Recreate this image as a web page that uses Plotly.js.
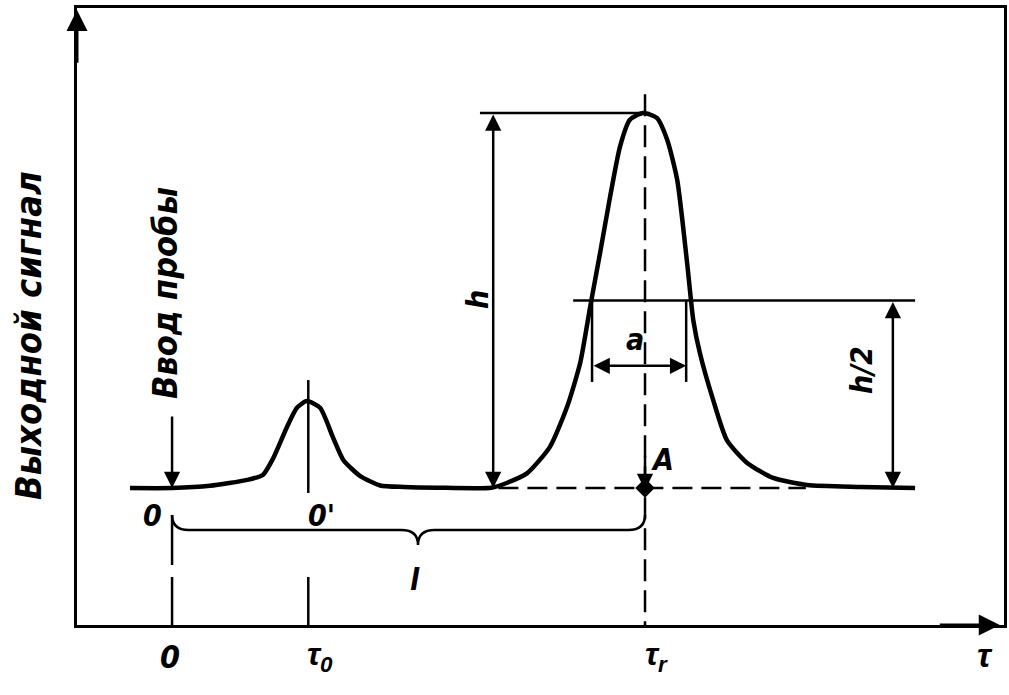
<!DOCTYPE html>
<html><head><meta charset="utf-8">
<script src="https://cdn.plot.ly/plotly-3.0.1.min.js"></script>
<style>html,body{margin:0;padding:0;background:#fff}#c{width:1009px;height:695px}</style>
</head><body><div id="c"></div>
<script>
// Chromatogram signal (time in arbitrary units, signal in arbitrary units)
const tau = [-0.89, 0, 0.80, 1.59, 1.92, 2.14, 2.43, 2.64, 2.85, 3.13, 3.40, 3.62, 3.98, 4.40, 4.90, 5.60, 6.75,
  7.10, 7.51, 7.99, 8.35, 8.63, 8.84, 9.05, 9.26, 9.47, 9.68, 9.96, 10.25, 10.47, 10.68, 10.89, 11.02,
  11.16, 11.44, 11.73, 12.16, 12.71, 13.43, 14.55, 15.71];
const signal = [3.65, 3.65, 3.71, 3.87, 4.00, 4.45, 5.28, 5.79, 5.97, 5.79, 5.01, 4.40, 3.97, 3.72, 3.68, 3.66, 3.66,
  3.80, 4.05, 4.75, 5.81, 6.99, 8.48, 9.92, 11.41, 12.75, 13.47, 13.65, 13.52, 12.93, 11.87, 9.65, 8.13,
  7.25, 6.00, 4.93, 4.32, 3.92, 3.73, 3.68, 3.65];

// Key quantities of the diagram
const tau0 = 2.88;        // τ0
const tauR = 10.0;        // τr
const baseline = 3.65;
const peakTop = 13.65;
const halfH = (baseline + peakTop) / 2;
const halfLeft = 8.88, halfRight = 10.87;

// Text labels
const yTitle = 'Выходной сигнал';
const injLabel = 'Ввод пробы';
const xTickVals = [0, tau0, tauR];
const xTickText = ['0', 'τ<sub>0</sub>', 'τ<sub>r</sub>'];
const xAxisLabel = 'τ';

const X0 = -2.01, X1 = 17.59, Y0 = 0, Y1 = 16.45;
const K = 'black';
const F = {family: 'DejaVu Sans Condensed, DejaVu Sans, sans-serif', color: K, style: 'italic', weight: 'bold', size: 30};
const f = s => Object.assign({}, F, {size: s});
const FT = s => Object.assign({}, F, {size: s, family: 'Liberation Sans, Arial, sans-serif'});

function line(x0, y0, x1, y1, w, dash) {
  return {type: 'line', xref: 'x', yref: 'y', x0, y0, x1, y1, line: {color: K, width: w || 2.5, dash: dash || 'solid'}};
}
function arrow(x, y, ax, ay, opts) {
  return Object.assign({x, y, ax, ay, xref: 'x', yref: 'y', axref: 'x', ayref: 'y', text: '', showarrow: true,
    arrowhead: 2, arrowsize: 1.3, arrowwidth: 2.5, arrowcolor: K, standoff: 0, startstandoff: 0}, opts || {});
}
function label(x, y, text, opts) {
  return Object.assign({x, y, xref: 'x', yref: 'y', text, showarrow: false, font: F, xanchor: 'center', yanchor: 'middle'}, opts || {});
}
const py = v => (v - Y0) / (Y1 - Y0); // data y -> paper y (for text outside plot)
const px = v => (v - X0) / (X1 - X0);

const braceY = 2.53, braceTop = 2.93, braceTip = 2.13, braceMid = 5.2;
const bracePath = `M 0,${braceTop} Q 0,${braceY} 0.35,${braceY} L ${braceMid-0.35},${braceY} Q ${braceMid},${braceY} ${braceMid},${braceTip} ` +
  `Q ${braceMid},${braceY} ${braceMid+0.35},${braceY} L ${tauR-0.35},${braceY} Q ${tauR},${braceY} ${tauR},${braceTop}`;

const shapes = [
  line(6.9, baseline, 13.4, baseline, 2.5, '20px,9px'),
  line(tauR, peakTop + 0.5, tauR, 0, 2.5, '22px,9px'),
  line(tau0, 6.53, tau0, 3.52, 2.5),
  line(tau0, 0, tau0, 1.28, 2.5),
  line(0, braceTop, 0, 0, 2.5, '50px,12px'),
  line(6.51, peakTop, tauR + 0.1, peakTop, 2.5),
  line(8.48, halfH, 15.71, halfH, 2.5),
  line(halfLeft, halfH, halfLeft, 6.48, 2.5),
  line(halfRight, halfH, halfRight, 6.48, 2.5),
  {type: 'path', xref: 'x', yref: 'y', path: bracePath, line: {color: K, width: 2.5}}
];

const annotations = [
  arrow(6.79, baseline, 6.79, peakTop, {arrowside: 'end+start'}),
  arrow(15.24, baseline, 15.24, halfH, {arrowside: 'end+start'}),
  arrow(halfRight, 6.91, halfLeft, 6.91, {arrowside: 'end+start'}),
  arrow(0, baseline, 0, 5.6),
  arrow(tauR, baseline - 0.05, tauR, baseline + 0.9),
  arrow(X0, Y1 - 0.05, X0, Y1 - 1.5, {arrowwidth: 3, arrowsize: 1.4}),
  arrow(17.5, Y0, 16.2, Y0, {arrowwidth: 3, arrowsize: 1.4}),
  label(6.47, 8.67, 'h', {textangle: -90}),
  label(14.59, 6.8, 'h/2', {textangle: -90}),
  label(9.79, 7.6, 'a'),
  label(10.36, 4.4, 'A'),
  label(3.17, 2.93, "0'"),
  label(-0.42, 2.93, '0'),
  label(5.14, 1.2, 'l'),
  label(-0.15, 8.85, injLabel, {textangle: -90, font: f(34)}),
  {xref: 'paper', yref: 'paper', x: px(17.19), y: py(-0.8), xanchor: 'center', yanchor: 'middle',
   text: xAxisLabel, showarrow: false, font: FT(34)},
  {xref: 'paper', yref: 'paper', x: -0.053, y: 0.47, xanchor: 'center', yanchor: 'middle',
   text: yTitle, textangle: -90, showarrow: false, font: f(36)}
];
xTickVals.forEach((v, i) => annotations.push({xref: 'paper', yref: 'paper', x: px(v + (i ? 0.25 : -0.05)), y: py(-0.85),
  xanchor: 'center', yanchor: 'middle', text: xTickText[i], showarrow: false, font: i ? FT(32) : f(32)}));

const traces = [
  {x: tau, y: signal, mode: 'lines', line: {color: K, width: 4.5, shape: 'spline', smoothing: 0.6}, hoverinfo: 'skip'},
  {x: [tauR], y: [baseline], mode: 'markers', marker: {symbol: 'diamond', size: 15, color: K}, hoverinfo: 'skip'}
];

const axis = {showgrid: false, zeroline: false, showticklabels: false, ticks: '', showline: true, mirror: true,
  linecolor: K, linewidth: 3, fixedrange: true};

Plotly.newPlot('c', traces, {
  width: 1009, height: 695,
  margin: {l: 77, r: 5, t: 8, b: 70},
  paper_bgcolor: '#fff', plot_bgcolor: '#fff',
  showlegend: false,
  xaxis: Object.assign({}, axis, {range: [X0, X1]}),
  yaxis: Object.assign({}, axis, {range: [Y0, Y1]}),
  shapes, annotations
}, {staticPlot: true});
</script></body></html>
